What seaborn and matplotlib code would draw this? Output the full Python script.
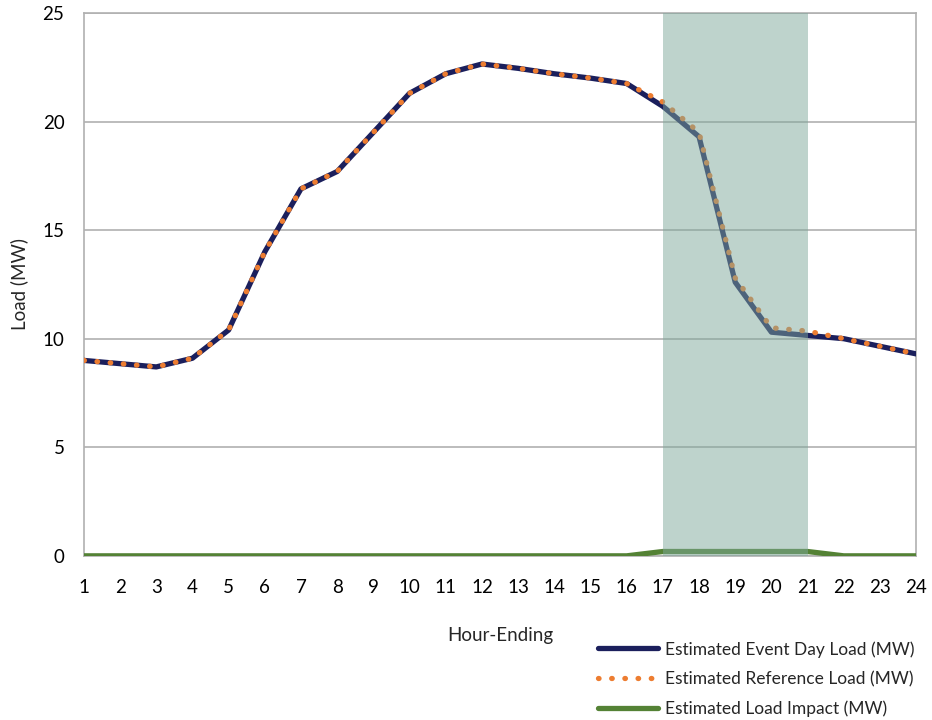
import numpy as np
import pandas as pd
import matplotlib
matplotlib.use("Agg")
import matplotlib.pyplot as plt
import seaborn as sns

hours = list(range(1, 25))
event_load = [9.0, 8.85, 8.7, 9.1, 10.4, 14.0, 16.9, 17.7, 19.5, 21.3, 22.2, 22.65,
              22.45, 22.2, 22.0, 21.75, 20.7, 19.3, 12.6, 10.3, 10.15, 10.0, 9.65, 9.3]
reference_load = [9.0, 8.85, 8.7, 9.1, 10.4, 14.0, 16.9, 17.7, 19.5, 21.3, 22.2, 22.65,
                  22.45, 22.2, 22.0, 21.75, 20.9, 19.5, 12.8, 10.5, 10.35, 10.0, 9.65, 9.3]
load_impact = [0, 0, 0, 0, 0, 0, 0, 0, 0, 0, 0, 0,
               0, 0, 0, 0, 0.2, 0.2, 0.2, 0.2, 0.2, 0, 0, 0]
event_window = (17, 21)
yticks = [0, 5, 10, 15, 20, 25]

sns.set_theme(style="white")
plt.rcParams['font.family'] = ['Lato', 'DejaVu Sans']

df = pd.DataFrame({"hour": hours, "event": event_load,
                   "ref": reference_load, "impact": load_impact})

fig = plt.figure(figsize=(9.32, 7.2), dpi=100)
ax = fig.add_axes([0.090, 0.228, 0.893, 0.754])

sns.lineplot(data=df, x="hour", y="event", ax=ax, color="#1B1F5C", lw=3.8,
             label="Estimated Event Day Load (MW)", zorder=3)
sns.lineplot(data=df, x="hour", y="ref", ax=ax, color="#ED7D31", lw=3.8,
             linestyle=(0, (0.1, 2.4)),
             label="Estimated Reference Load (MW)", zorder=4)
sns.lineplot(data=df, x="hour", y="impact", ax=ax, color="#548235", lw=3.8,
             label="Estimated Load Impact (MW)", zorder=4)
for l in ax.lines:
    l.set_solid_capstyle("round")
    l.set_solid_joinstyle("round")
ax.lines[1].set_dash_capstyle("round")

ax.axvspan(event_window[0], event_window[1], color="#7FA89B", alpha=0.5,
           lw=0, zorder=5)

ax.set_xlim(1, 24)
ax.set_ylim(0, 25)
ax.set_xticks(hours)
ax.set_yticks(yticks)
ax.tick_params(axis="both", labelsize=13.5, length=0, colors="#000000")
ax.tick_params(axis="x", pad=17)
ax.tick_params(axis="y", pad=14)
ax.yaxis.grid(True, color="#B0B0B0", lw=1.2)
ax.xaxis.grid(False)
for s in ax.spines.values():
    s.set_color("#B0B0B0")
    s.set_linewidth(1.2)
ax.set_xlabel("Hour-Ending", fontsize=13.5, labelpad=22)
ax.set_ylabel("Load (MW)", fontsize=13.5, labelpad=10)

leg = ax.legend(loc="upper left", bbox_to_anchor=(0.609, -0.144), frameon=False,
                fontsize=12.5, handlelength=3.5, labelspacing=0.78, handletextpad=0.4,
                borderaxespad=0)
for h in leg.get_lines():
    h.set_solid_capstyle("round")
    h.set_dash_capstyle("round")

fig.savefig("out.png", dpi=100)
